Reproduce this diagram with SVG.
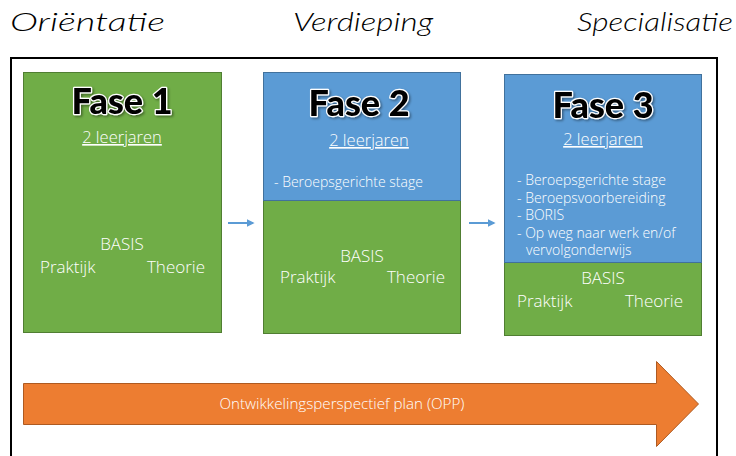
<svg xmlns="http://www.w3.org/2000/svg" width="736" height="456" viewBox="0 0 736 456">
<defs>
<style>
.hd{font-family:Lato,"Open Sans",sans-serif;font-style:italic;font-weight:300;font-size:26px;fill:#000}
.ttl{font-family:Lato,"DejaVu Sans",sans-serif;font-weight:900;font-size:36px;fill:#000;stroke:#fff;stroke-width:2.5px;paint-order:stroke;stroke-linejoin:round;text-anchor:middle;filter:url(#ds)}
.sub{font-family:"Open Sans",Lato,sans-serif;font-weight:300;font-size:16.5px;fill:#fff;text-anchor:middle;text-decoration:underline}
.t{font-family:"Open Sans",Lato,sans-serif;font-weight:300;font-size:17px;fill:#fff}
.l{font-family:"Open Sans",Lato,sans-serif;font-weight:300;font-size:14px;fill:#fff}
.g{fill:#70AD47;stroke:#507E32;stroke-width:1}
.b{fill:#5B9BD5;stroke:#41719C;stroke-width:1}
.sa{stroke:#5B9BD5;stroke-width:2;fill:none;marker-end:url(#ah)}
</style>
<filter id="ds" x="-10%" y="-20%" width="130%" height="150%">
<feDropShadow dx="1.5" dy="1.5" stdDeviation="1" flood-color="#000" flood-opacity="0.4"/>
</filter>
<marker id="ah" viewBox="0 0 10 10" refX="8" refY="5" markerWidth="4" markerHeight="4" orient="auto"><path d="M0,0 L10,5 L0,10 z" fill="#5B9BD5"/></marker>
</defs>
<rect width="736" height="456" fill="#fff"/>
<text class="hd" x="10" y="31" textLength="155" lengthAdjust="spacingAndGlyphs">Oriëntatie</text>
<text class="hd" x="293" y="31" textLength="140" lengthAdjust="spacingAndGlyphs">Verdieping</text>
<text class="hd" x="577" y="31" textLength="156" lengthAdjust="spacingAndGlyphs">Specialisatie</text>
<path d="M11,470 L11,58 L717,58 L717,470" fill="none" stroke="#000" stroke-width="2"/>
<g id="fase1">
<rect class="g" x="23.5" y="72.5" width="198" height="260"/>
<text class="ttl" x="122" y="114">Fase 1</text>
<text class="sub" x="122" y="143">2 leerjaren</text>
<text class="t" x="122" y="250" text-anchor="middle">BASIS</text>
<text class="t" x="40" y="273">Praktijk</text>
<text class="t" x="205" y="273" text-anchor="end">Theorie</text>
</g>
<g id="fase2">
<rect class="g" x="263.5" y="200.5" width="197" height="133"/>
<rect class="b" x="263.5" y="72.5" width="197" height="128"/>
<text class="ttl" x="359" y="116">Fase 2</text>
<text class="sub" x="369" y="146">2 leerjaren</text>
<text class="l" x="274" y="187">- Beroepsgerichte stage</text>
<text class="t" x="362" y="262" text-anchor="middle">BASIS</text>
<text class="t" x="280" y="283">Praktijk</text>
<text class="t" x="445" y="283" text-anchor="end">Theorie</text>
</g>
<g id="fase3">
<rect class="g" x="504.5" y="262.5" width="197" height="73"/>
<rect class="b" x="504.5" y="74.5" width="197" height="188"/>
<text class="ttl" x="603" y="118">Fase 3</text>
<text class="sub" x="603" y="145">2 leerjaren</text>
<text class="l" x="517" y="185">- Beroepsgerichte stage</text>
<text class="l" x="517" y="202.5">- Beroepsvoorbereiding</text>
<text class="l" x="517" y="220">- BORIS</text>
<text class="l" x="517" y="237.5">- Op weg naar werk en/of</text>
<text class="l" x="526" y="255">vervolgonderwijs</text>
<text class="t" x="603" y="284" text-anchor="middle">BASIS</text>
<text class="t" x="517" y="307">Praktijk</text>
<text class="t" x="683" y="307" text-anchor="end">Theorie</text>
</g>
<g id="opp">
<path d="M23.5,383.5 L656.5,383.5 L656.5,361.5 L698.5,404 L656.5,446.5 L656.5,424.5 L23.5,424.5 z" fill="#ED7D31" stroke="#AE5A21" stroke-width="1"/>
<text x="342" y="409" font-family="'Open Sans',Lato,sans-serif" font-weight="300" font-size="14" fill="#fff" text-anchor="middle" textLength="245" lengthAdjust="spacingAndGlyphs">Ontwikkelingsperspectief plan (OPP)</text>
</g>
<g id="connectors">
<line class="sa" x1="228" y1="223" x2="253" y2="223"/>
<line class="sa" x1="469" y1="223" x2="494" y2="223"/>
</g>
</svg>
